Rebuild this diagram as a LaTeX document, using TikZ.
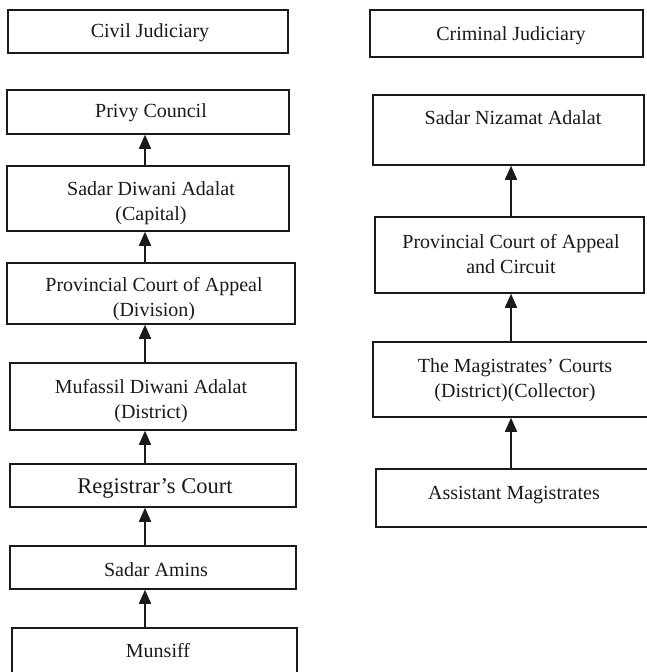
\documentclass[tikz,border=0pt]{standalone}
\usepackage{fontspec}
\setmainfont{Liberation Serif}
\usetikzlibrary{arrows.meta}
\definecolor{ink}{HTML}{1A1A1A}
\begin{document}
\begin{tikzpicture}[x=1pt,y=-1pt,
  box/.style={draw=ink, line width=1.5pt, inner sep=0pt, rectangle},
  lbl/.style={font=\fontsize{20}{25}\selectfont, align=center, inner sep=0pt, text=ink},
  biglbl/.style={lbl, font=\fontsize{22.5}{27}\selectfont},
  arr/.style={draw=ink, line width=1.5pt, -{Triangle[length=14pt,width=12pt]}}]

% page
\fill[white] (0,0) rectangle (646,672);
\useasboundingbox (0,0) rectangle (646,672);

% column axes for the connectors
\coordinate (colL) at (145,0);
\coordinate (colR) at (511,0);

% ---- civil side ----
\node[box, minimum width=280pt, minimum height=43pt] (civil) at (148,31.5) {};
\node[lbl] (civil-t) at (150,33) {Civil Judiciary};

\node[box, minimum width=282pt, minimum height=44pt] (privy) at (148,112) {};
\node[lbl] (privy-t) at (151,113) {Privy Council};

\node[box, minimum width=282pt, minimum height=65pt] (sadar) at (148,198.5) {};
\node[lbl] (sadar-t) at (151,203) {Sadar Diwani Adalat\\(Capital)};

\node[box, minimum width=288pt, minimum height=61pt] (prov) at (151,293.5) {};
\node[lbl] (prov-t) at (154,299) {Provincial Court of Appeal\\(Division)};

\node[box, minimum width=286pt, minimum height=67pt] (mufassil) at (153,396.5) {};
\node[lbl] (mufassil-t) at (151,401) {Mufassil Diwani Adalat\\(District)};

\node[box, minimum width=286pt, minimum height=43pt] (registrar) at (153,485.5) {};
\node[biglbl] (registrar-t) at (155,488) {Registrar's Court};

\node[box, minimum width=286pt, minimum height=43pt] (amins) at (153,567.5) {};
\node[lbl] (amins-t) at (156,570) {Sadar Amins};

\node[box, minimum width=285pt, minimum height=48pt] (munsiff) at (154.5,652) {};
\node[lbl] (munsiff-t) at (158,651) {Munsiff};

% ---- criminal side ----
\node[box, minimum width=273pt, minimum height=47pt] (criminal) at (506.5,33.5) {};
\node[lbl] (criminal-t) at (511,36) {Criminal Judiciary};

\node[box, minimum width=271pt, minimum height=70pt] (nizamat) at (508.5,130) {};
\node[lbl] (nizamat-t) at (513,118) {Sadar Nizamat Adalat};

\node[box, minimum width=269pt, minimum height=76pt] (circuit) at (509.5,255) {};
\node[lbl] (circuit-t) at (511,254) {Provincial Court of Appeal\\and Circuit};

\node[box, minimum width=275pt, minimum height=75pt] (magis) at (510.5,379.5) {};
\node[lbl] (magis-t) at (515,380) {The Magistrates' Courts\\(District)(Collector)};

\node[box, minimum width=272pt, minimum height=58pt] (assist) at (512,498) {};
\node[lbl] (assist-t) at (514,495) {Assistant Magistrates};

% ---- appeals run upwards ----
\draw[arr] (sadar.north -| colL) -- (privy.south -| colL);
\draw[arr] (prov.north -| colL) -- (sadar.south -| colL);
\draw[arr] (mufassil.north -| colL) -- (prov.south -| colL);
\draw[arr] (registrar.north -| colL) -- (mufassil.south -| colL);
\draw[arr] (amins.north -| colL) -- (registrar.south -| colL);
\draw[arr] (munsiff.north -| colL) -- (amins.south -| colL);

\draw[arr] (circuit.north -| colR) -- (nizamat.south -| colR);
\draw[arr] (magis.north -| colR) -- (circuit.south -| colR);
\draw[arr] (assist.north -| colR) -- (magis.south -| colR);
\end{tikzpicture}
\end{document}
